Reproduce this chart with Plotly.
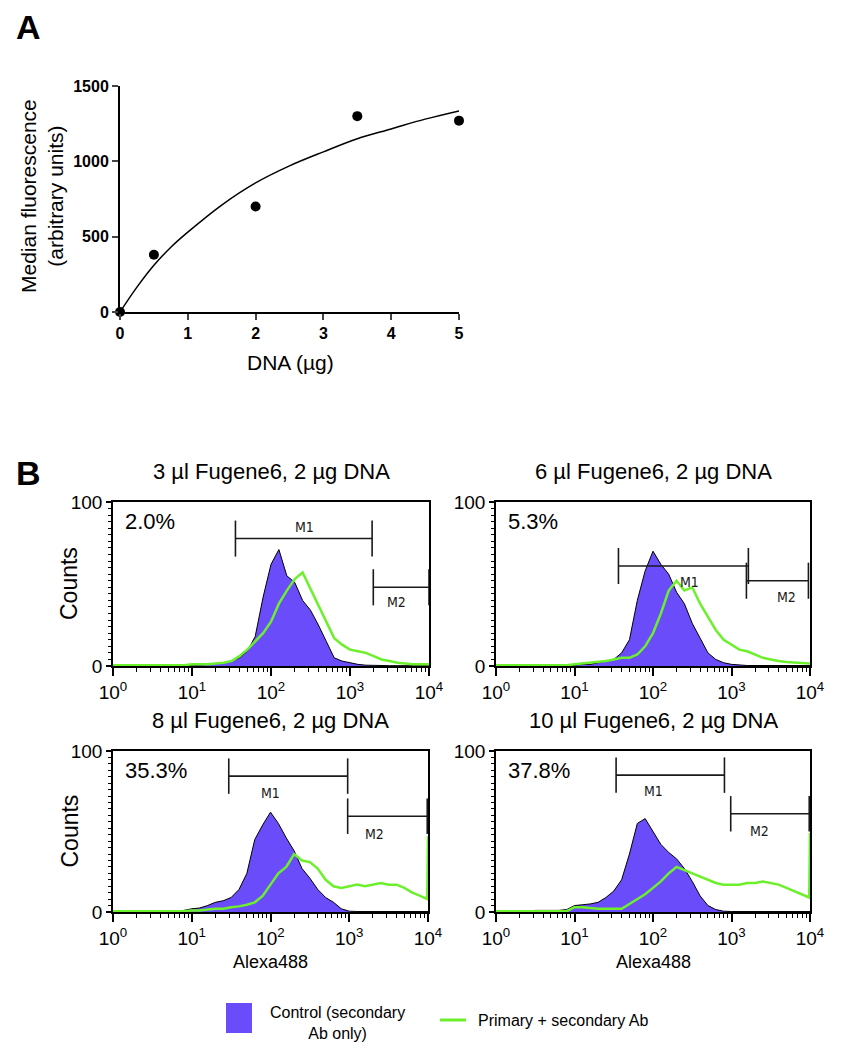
import plotly.graph_objects as go

W, H = 843, 1050
PAGE_PAD = 8  # the page body margin shifts the whole figure
FONT = "Arial, Liberation Sans, sans-serif"
NARROW = "Liberation Sans Narrow, DejaVu Sans Condensed, Arial"
PURPLE = "#6a4cfb"
GREEN = "#6cf02c"

# ---- panel A: DNA dose response ----
dna_ug = [0, 0.5, 2, 3.5, 5]
median_fl = [0, 380, 700, 1300, 1270]
# fitted curve
fit_dna = [0, 0.25, 0.5, 0.75, 1, 1.5, 2, 2.5, 3, 3.5, 4, 4.5, 5]
fit_fl = [0, 165, 310, 430, 530, 710, 857, 970, 1063, 1150, 1215, 1280, 1335]

# ---- panel B: flow histograms (log10 channel grid) ----
log_ch = [0.0, 0.1, 0.2, 0.3, 0.4, 0.5, 0.6, 0.7, 0.8, 0.9,
          1.0, 1.1, 1.2, 1.3, 1.4, 1.5, 1.6, 1.7, 1.8, 1.9,
          2.0, 2.1, 2.2, 2.3, 2.4, 2.5, 2.6, 2.7, 2.8, 2.9,
          3.0, 3.1, 3.2, 3.3, 3.4, 3.5, 3.6, 3.7, 3.8, 3.9, 3.99, 4.0]

titles = ["3 µl Fugene6, 2 µg DNA", "6 µl Fugene6, 2 µg DNA",
          "8 µl Fugene6, 2 µg DNA", "10 µl Fugene6, 2 µg DNA"]
percents = ["2.0%", "5.3%", "35.3%", "37.8%"]

control_3ul = [0, 0, 0, 0, 0, 0, 0, 0, 0, 0.3,
               0.5, 0.5, 1, 1.5, 2, 3, 5, 9, 18, 42,
               62, 71, 55, 51, 40, 34, 25, 15, 5, 3,
               2, 1, 0.5, 0.3, 0.3, 0.2, 0.2, 0.2, 0.2, 0.2, 0.2, 0.2]
primary_3ul = [0.5, 0.5, 0.5, 0.5, 0.5, 0.5, 0.5, 0.5, 0.5, 0.5,
               1, 1, 1, 1.5, 2, 3, 6, 10, 15, 20,
               27, 38, 46, 53, 57, 47, 37, 26, 17, 13,
               10, 9, 8, 6, 4, 3, 2, 1.5, 1, 1, 1, 1]

control_6ul = [0, 0, 0, 0, 0, 0, 0, 0, 0, 0.3,
               0.5, 1, 1, 2, 3, 4, 8, 16, 40, 58,
               70, 62, 56, 45, 38, 26, 17, 8, 4, 2,
               1, 0.5, 0.3, 0.3, 0.3, 0.3, 0.3, 0.3, 0.3, 0.3, 0.3, 0.3]
primary_6ul = [0.5, 0.5, 0.5, 0.5, 0.5, 0.5, 0.5, 0.5, 0.5, 0.5,
               1, 1.5, 2, 2.5, 3, 4, 5, 5, 7, 12,
               20, 32, 46, 52, 46, 48, 38, 30, 22, 16,
               13, 10, 9, 7, 5, 4, 3, 2.5, 2, 1.5, 1.5, 1.5]

control_8ul = [0, 0, 0, 0.3, 0.3, 0.3, 0.5, 0.5, 0.5, 1,
               2, 2.5, 4, 6, 7, 9, 14, 24, 45, 54,
               62, 55, 46, 38, 27, 21, 14, 9, 6, 2,
               0.5, 0.3, 0.3, 0.3, 0.3, 0.3, 0.3, 0.3, 0.3, 0.3, 0.3, 0.3]
primary_8ul = [0.5, 0.5, 0.5, 0.5, 0.5, 0.5, 0.5, 0.5, 0.5, 0.5,
               1, 1, 1.5, 2, 2, 3, 3.5, 4.5, 6, 10,
               17, 24, 28, 36, 32, 31, 27, 20, 16, 15,
               16, 17, 16, 17, 18, 17, 17, 15, 12, 10, 8, 47]

control_10ul = [0, 0, 0, 0.3, 0.3, 1, 1, 1, 1, 1.5,
                4, 4.5, 5, 6, 9, 13, 20, 36, 55, 58,
                50, 42, 37, 33, 27, 19, 10, 4, 1.5, 0.5,
                0.3, 0.3, 0.3, 0.3, 0.3, 0.3, 0.3, 0.3, 0.3, 0.3, 0.3, 0.3]
primary_10ul = [0.5, 0.5, 0.5, 0.5, 0.5, 0.5, 0.5, 0.5, 0.5, 0.5,
                3, 3, 2.5, 2, 2, 2, 2, 5, 8, 11,
                15, 19, 24, 28, 26, 24, 22, 20, 18, 17,
                17, 17, 18, 18, 19, 18, 17, 15, 13, 11, 9, 49]

controls = [control_3ul, control_6ul, control_8ul, control_10ul]
primaries = [primary_3ul, primary_6ul, primary_8ul, primary_10ul]

# gate markers (log10 channel limits, height in counts)
m1_lo = [1.55, 1.56, 1.47, 1.53]
m1_hi = [3.28, 3.215, 2.98, 2.91]
m1_y = [77.7, 61, 84.4, 85]
m1_label = [(2.42, 85), (2.47, 51), (2.0, 74), (2.0, 75)]
m2_lo = [3.295, 3.19, 2.98, 2.99]
m2_hi = [4.0, 3.98, 3.99, 3.99]
m2_y = [48, 52, 59.5, 61]
m2_label = [(3.59, 39), (3.70, 42), (3.32, 48.5), (3.36, 50.5)]
gate_half = 11

# plot area boxes in pixels: (left, right, top, bottom)
boxes = [(113, 429, 502, 666), (496, 810, 502, 666),
         (113, 428, 751, 912), (496, 810, 751, 912)]


def px_x(v):
    return (v - PAGE_PAD) / W


def px_y(v):
    return 1 - (v - PAGE_PAD) / H


def note(text, x, y, size, **kw):
    d = dict(text=text, x=px_x(x), y=px_y(y), xref="paper", yref="paper", xanchor="center",
             yanchor="middle", showarrow=False, font=dict(size=size))
    d.update(kw)
    return d


fig = go.Figure()

# panel A
fig.add_trace(go.Scatter(x=fit_dna, y=fit_fl, mode="lines", line=dict(color="black", width=1.5, shape="spline"),
                         xaxis="x", yaxis="y", cliponaxis=False, showlegend=False))
fig.add_trace(go.Scatter(x=dna_ug, y=median_fl, mode="markers", marker=dict(color="black", size=10),
                         xaxis="x", yaxis="y", cliponaxis=False, showlegend=False))

layout = dict(
    template="none",
    width=W, height=H, margin=dict(l=0, r=0, t=0, b=0, autoexpand=False),
    plot_bgcolor="white", paper_bgcolor="white",
    font=dict(family=FONT, color="black"),
    showlegend=False,
    xaxis=dict(domain=[px_x(120), px_x(459)], range=[0, 5], tickvals=[0, 1, 2, 3, 4, 5],
               showline=True, linecolor="black", linewidth=2, ticks="outside", ticklen=6, tickwidth=2,
               tickfont=dict(size=16, weight="bold"), showgrid=False, zeroline=False, anchor="y",
               automargin=False),
    yaxis=dict(domain=[px_y(312), px_y(86)], range=[0, 1500], tickvals=[0, 500, 1000, 1500],
               showline=True, linecolor="black", linewidth=2, ticks="outside", ticklen=6, tickwidth=2,
               tickfont=dict(size=16, weight="bold"), showgrid=False, zeroline=False, anchor="x",
               automargin=False),
)

annotations = [
    note("<b>A</b>", 28, 27, 34),
    note("<b>B</b>", 28, 473, 34),
    note("Median fluorescence<br>(arbitrary units)", 42, 196, 21, textangle=-90),
    note("DNA (µg)", 290, 362, 21),
]

minor_x = [m * 10 ** d for d in range(4) for m in range(2, 10)]

for i in range(4):
    n = i + 2
    xa, ya = f"x{n}", f"y{n}"
    l, r, t, b = boxes[i]
    chan = [10 ** e for e in log_ch]

    fig.add_trace(go.Scatter(x=chan, y=controls[i], mode="lines", fill="tozeroy", fillcolor=PURPLE,
                             line=dict(color="black", width=1), xaxis=xa, yaxis=ya, showlegend=False))
    fig.add_trace(go.Scatter(x=chan, y=primaries[i], mode="lines", line=dict(color=GREEN, width=2.5),
                             xaxis=xa, yaxis=ya, showlegend=False))

    # gate brackets
    for lo, hi, yy in [(m1_lo[i], m1_hi[i], m1_y[i]), (m2_lo[i], m2_hi[i], m2_y[i])]:
        fig.add_trace(go.Scatter(
            x=[10 ** lo, 10 ** lo, None, 10 ** lo, 10 ** hi, None, 10 ** hi, 10 ** hi],
            y=[yy - gate_half, yy + gate_half, None, yy, yy, None, yy - gate_half, yy + gate_half],
            mode="lines", line=dict(color="#1a1a1a", width=1.6), xaxis=xa, yaxis=ya,
            cliponaxis=False, showlegend=False))
    for lab, (lx, ly) in zip(["M1", "M2"], [m1_label[i], m2_label[i]]):
        annotations.append(dict(text=lab, x=lx, y=ly, xref=xa, yref=ya, showarrow=False,
                                xanchor="center", yanchor="middle",
                                font=dict(size=14, family=NARROW, color="#1a1a1a")))

    layout[f"xaxis{n}"] = dict(
        domain=[px_x(l), px_x(r)], type="log", range=[0, 4], anchor=ya,
        tickvals=[1, 10, 100, 1000, 10000],
        ticktext=["10<sup>0</sup>", "10<sup>1</sup>", "10<sup>2</sup>", "10<sup>3</sup>", "10<sup>4</sup>"],
        ticks="outside", ticklen=8, tickwidth=1.5, tickcolor="black", tickfont=dict(size=19),
        minor=dict(tickvals=minor_x, ticks="outside", ticklen=4, tickwidth=1, tickcolor="black"),
        showline=True, mirror=True, linecolor="black", linewidth=1.5, showgrid=False, zeroline=False,
        automargin=False)
    layout[f"yaxis{n}"] = dict(
        domain=[px_y(b), px_y(t)], range=[0, 100], anchor=xa, tickvals=[0, 100],
        ticks="outside", ticklen=5, tickwidth=1.5, tickcolor="black", tickfont=dict(size=19),
        minor=dict(dtick=4, ticks="outside", ticklen=3, tickwidth=1, tickcolor="black"),
        showline=True, mirror=True, linecolor="black", linewidth=1.5, showgrid=False, zeroline=False,
        automargin=False)

    cx = (l + r) / 2
    annotations.append(note(titles[i], cx, t - 31, 22))
    annotations.append(note(percents[i], l + 10, t + 19, 22, xanchor="left"))
    if i in (0, 2):
        annotations.append(note("Counts", 69, (t + b) / 2, 23, textangle=-90))
    if i in (2, 3):
        annotations.append(note("Alexa488", cx, 962, 18))

# legend
shapes = [
    dict(type="rect", xref="paper", yref="paper", x0=px_x(226), x1=px_x(252), y0=px_y(1033), y1=px_y(1003),
         fillcolor=PURPLE, line=dict(width=0)),
    dict(type="line", xref="paper", yref="paper", x0=px_x(440), x1=px_x(466), y0=px_y(1020), y1=px_y(1020),
         line=dict(color=GREEN, width=3)),
]
annotations.append(note("Control (secondary<br>Ab only)", 337, 1023, 16, align="center"))
annotations.append(note("Primary + secondary Ab", 476, 1020, 16, xanchor="left"))

layout["annotations"] = annotations
layout["shapes"] = shapes
fig.update_layout(**layout)

fig.write_html("out.html")
